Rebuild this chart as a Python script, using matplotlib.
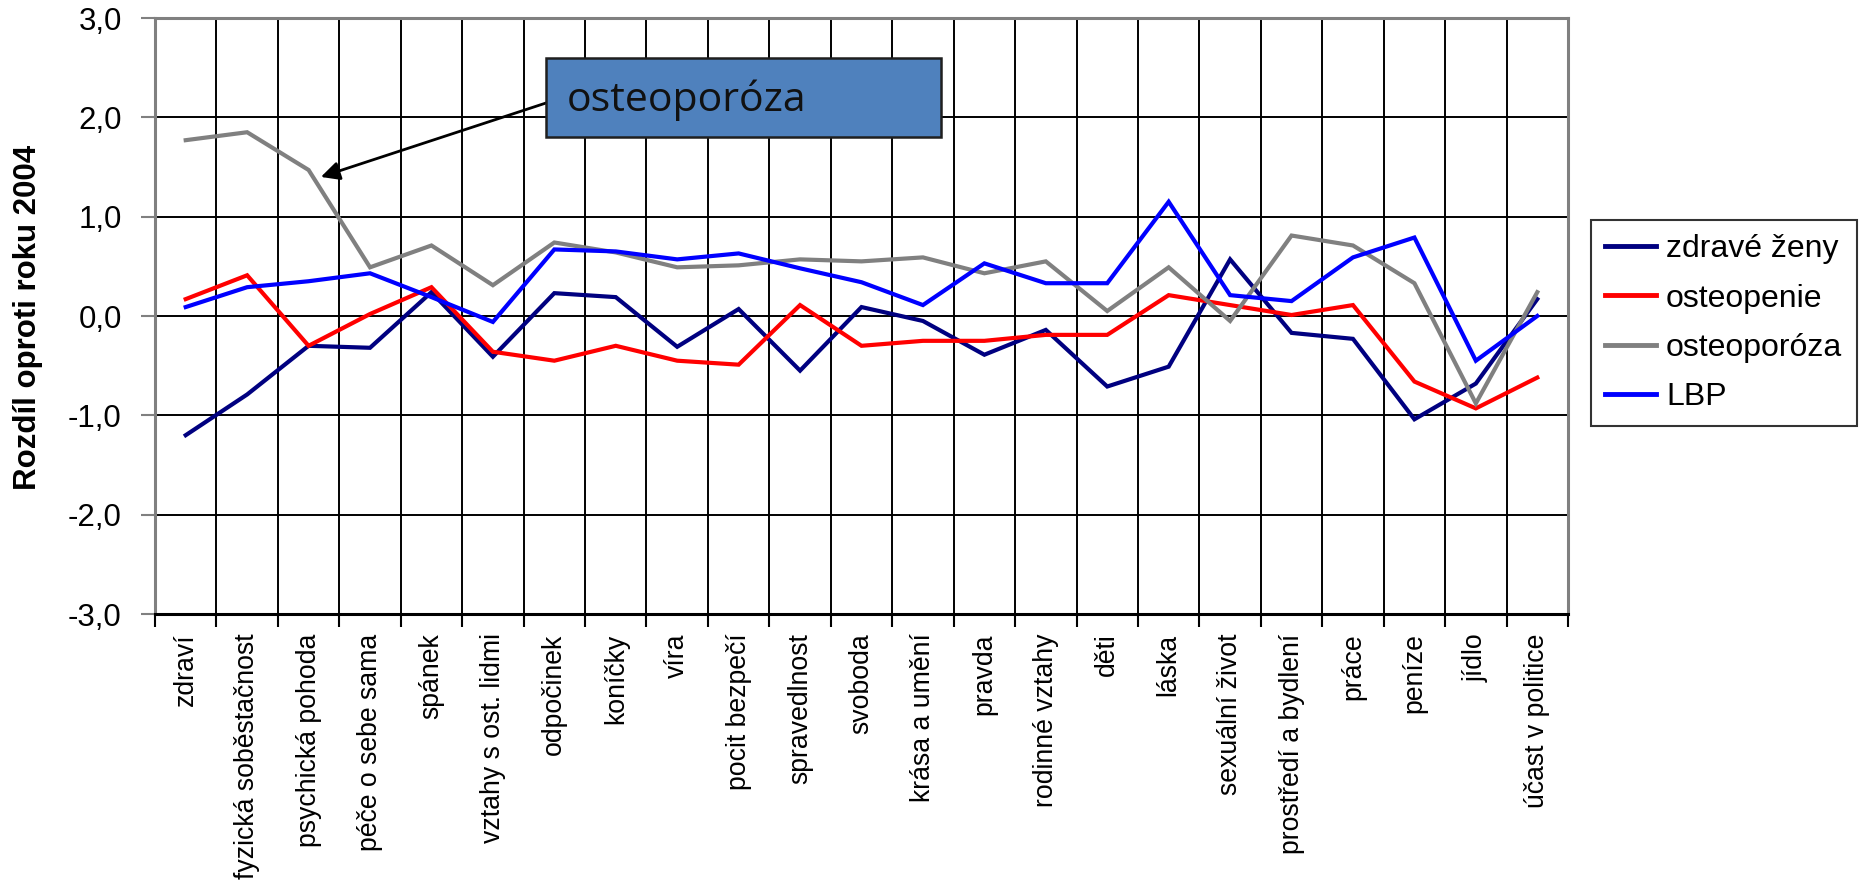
import matplotlib
matplotlib.use("Agg")
import matplotlib.pyplot as plt
import matplotlib.patches as mpatches
from matplotlib.ticker import FixedLocator, FuncFormatter

# ── Data ────────────────────────────────────────────────────────────────

categories = [
    "zdraví", "fyzická soběstačnost", "psychická pohoda", "péče o sebe sama",
    "spánek", "vztahy s ost. lidmi", "odpočinek", "koníčky", "víra",
    "pocit bezpečí", "spravedlnost", "svoboda", "krása a umění", "pravda",
    "rodinné vztahy", "děti", "láska", "sexuální život",
    "prostředí a bydlení", "práce", "peníze", "jídlo", "účast v politice",
]

zdrave_zeny = [-1.20, -0.79, -0.30, -0.32, 0.24, -0.41, 0.23, 0.19, -0.31,
               0.07, -0.55, 0.09, -0.05, -0.39, -0.14, -0.71, -0.51, 0.57,
               -0.17, -0.23, -1.04, -0.68, 0.17]
osteopenie = [0.17, 0.41, -0.30, 0.02, 0.29, -0.36, -0.45, -0.30, -0.45,
              -0.49, 0.11, -0.30, -0.25, -0.25, -0.19, -0.19, 0.21, 0.11,
              0.01, 0.11, -0.66, -0.93, -0.62]
osteoporoza = [1.77, 1.85, 1.47, 0.49, 0.71, 0.31, 0.74, 0.64, 0.49, 0.51,
               0.57, 0.55, 0.59, 0.43, 0.55, 0.05, 0.49, -0.05, 0.81, 0.71,
               0.33, -0.88, 0.24]
lbp = [0.09, 0.29, 0.35, 0.43, 0.19, -0.06, 0.67, 0.65, 0.57, 0.63, 0.48,
       0.34, 0.11, 0.53, 0.33, 0.33, 1.15, 0.21, 0.15, 0.59, 0.79, -0.45,
       0.00]

series_names = ["zdravé ženy", "osteopenie", "osteoporóza", "LBP"]
series_colors = ["#000080", "#FF0000", "#808080", "#0000FF"]

# ── Figure ──────────────────────────────────────────────────────────────

W, H, DPI = 1860, 886, 100
plt.rcParams["font.family"] = ["Liberation Sans", "DejaVu Sans"]

fig = plt.figure(figsize=(W / DPI, H / DPI), dpi=DPI)
left, right, top, bottom = 155, 1568, 18, 614
ax = fig.add_axes([left / W, 1 - bottom / H, (right - left) / W, (bottom - top) / H])

x = list(range(len(categories)))
for vals, name, col in zip([zdrave_zeny, osteopenie, osteoporoza, lbp],
                           series_names, series_colors):
    ax.plot(x, vals, color=col, lw=3.0, label=name, zorder=3,
            solid_joinstyle="miter")

ax.set_xlim(-0.5, len(categories) - 0.5)
ax.set_ylim(-3, 3)

# category labels in the middle, ticks + grid at the boundaries
ax.set_xticks(x)
ax.set_xticklabels(categories, rotation=90, fontsize=19.2, va="top", ha="center")
ax.tick_params(axis="x", which="major", length=0, pad=14)
ax.xaxis.set_minor_locator(FixedLocator([i - 0.5 for i in range(len(categories) + 1)]))
ax.tick_params(axis="x", which="minor", length=9, width=1.5, color="black",
               direction="out")
ax.grid(axis="x", which="minor", color="black", lw=1.4)

ax.set_yticks(range(-3, 4))
ax.yaxis.set_major_formatter(FuncFormatter(lambda v, p: f"{v:.1f}".replace(".", ",")))
ax.tick_params(axis="y", labelsize=22.5, length=10, width=1.5, color="#808080",
               direction="out", pad=14)
ax.grid(axis="y", which="major", color="black", lw=1.4)
ax.set_axisbelow(True)

for side in ["left", "top", "right"]:
    ax.spines[side].set_color("#808080")
    ax.spines[side].set_linewidth(2.2)
ax.spines["bottom"].set_color("black")
ax.spines["bottom"].set_linewidth(2.2)

fig.text(28 / W, 1 - 317 / H, "Rozdíl oproti roku 2004", rotation=90,
         ha="center", va="center", fontsize=22.5, fontweight="bold")

leg = ax.legend(loc="upper left", bbox_to_anchor=(1591 / W, 1 - 220 / H),
                bbox_transform=fig.transFigure, borderaxespad=0,
                fontsize=23, frameon=True, fancybox=False, edgecolor="black",
                handlelength=1.6, handletextpad=0.3, labelspacing=0.6,
                borderpad=0.45)
leg.get_frame().set_linewidth(1.5)
for h in leg.get_lines():
    h.set_linewidth(3.5)

# callout box pointing at the osteoporóza line
bx, by, bw, bh = 546, 137, 395, 79
box = mpatches.Rectangle((bx / W, 1 - by / H), bw / W, bh / H,
                         transform=fig.transFigure, facecolor="#4F81BD",
                         edgecolor="#1F1F1F", lw=1.8, zorder=5)
fig.add_artist(box)
fig.text(567 / W, 1 - 100 / H, "osteoporóza", family="Open Sans",
         fontsize=29.5, ha="left", va="center", color="#111111", zorder=6)
ax.annotate("", xy=(2.2, 1.4), xycoords="data",
            xytext=(bx / W, 1 - 103 / H), textcoords="figure fraction",
            arrowprops=dict(arrowstyle="-|>", color="black", lw=2,
                            mutation_scale=28, shrinkA=0, shrinkB=0),
            zorder=6, annotation_clip=False)

fig.savefig("out.png", dpi=DPI)
